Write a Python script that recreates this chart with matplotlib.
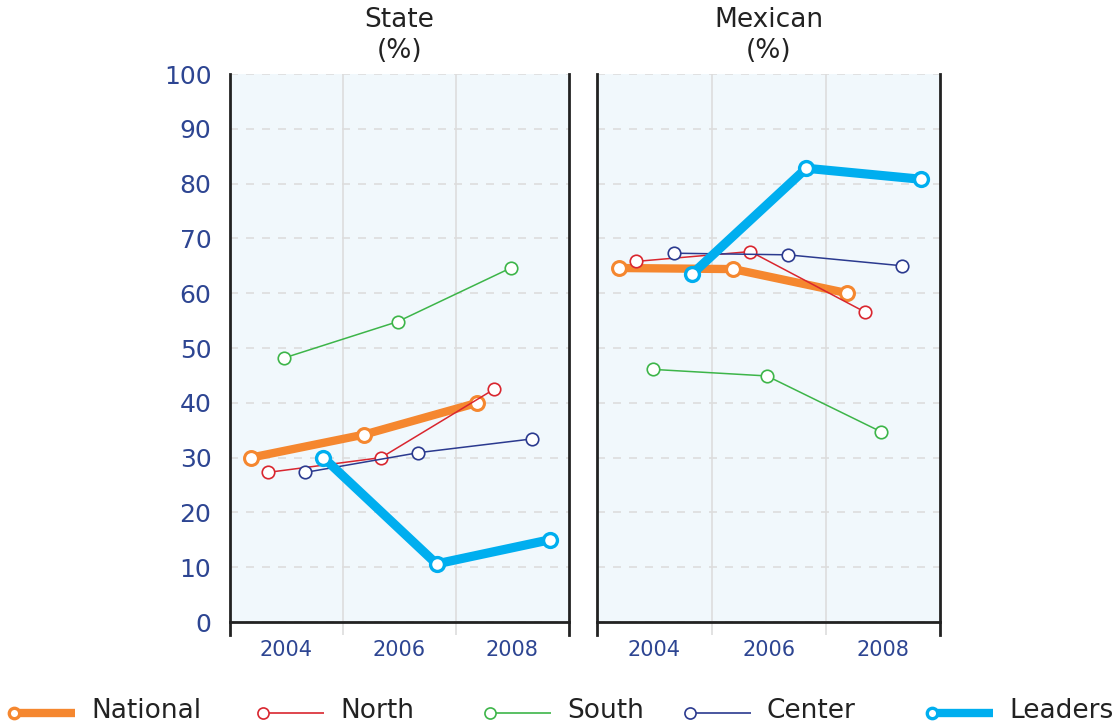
import matplotlib
matplotlib.use("Agg")
import matplotlib.pyplot as plt
from matplotlib.lines import Line2D
import numpy as np

plt.rcParams['font.family'] = ['DejaVu Sans']

# ---- data ----
years = ['2004', '2006', '2008']
series = ['National', 'North', 'South', 'Center', 'Leaders']
panel_titles = ['State\n(%)', 'Mexican\n(%)']

state_national = [30, 34.2, 40]
state_north = [27.3, 30, 42.5]
state_south = [48.2, 54.8, 64.6]
state_center = [27.3, 30.9, 33.4]
state_leaders = [30, 10.6, 15]

mexican_national = [64.6, 64.4, 60]
mexican_north = [65.8, 67.6, 56.6]
mexican_south = [46.1, 44.9, 34.7]
mexican_center = [67.3, 67, 65]
mexican_leaders = [63.5, 82.8, 80.8]

yticks = list(range(0, 101, 10))

# ---- styles ----
colors = {'National': '#f5872f', 'North': '#d9262f', 'South': '#3db549',
          'Center': '#2b3a8f', 'Leaders': '#00aeef'}
lws = {'National': 6.0, 'North': 1.1, 'South': 1.1, 'Center': 1.1, 'Leaders': 6.6}
msz = {'National': 10, 'North': 9, 'South': 9, 'Center': 9, 'Leaders': 10}
mew = {'National': 2.2, 'North': 1.2, 'South': 1.2, 'Center': 1.2, 'Leaders': 2.4}
offsets = [-0.31, -0.16, -0.015, 0.17, 0.33]
tick_color = '#2d4592'
bg = '#f1f8fc'
grid_c = '#dddddd'

panels = [
    [state_national, state_north, state_south, state_center, state_leaders],
    [mexican_national, mexican_north, mexican_south, mexican_center, mexican_leaders],
]

fig = plt.figure(figsize=(11.16, 7.25), dpi=100)
W, H = 1116, 725
ax_px = [(229.5, 569.0), (597.3, 940.0)]
y_top, y_bot = 74, 622

for i, (x0, x1) in enumerate(ax_px):
    ax = fig.add_axes([x0 / W, 1 - y_bot / H, (x1 - x0) / W, (y_bot - y_top) / H])
    ax.set_facecolor(bg)
    ax.set_xlim(0, 3)
    ax.set_ylim(0, 100)

    centers = np.arange(len(years)) + 0.5
    for k, (name, vals) in enumerate(zip(series, panels[i])):
        ax.plot(centers + offsets[k], vals, color=colors[name], lw=lws[name],
                marker='o', ms=msz[name], mfc='white', mec=colors[name],
                mew=mew[name], solid_capstyle='butt', zorder=3 + k, clip_on=False)

    # grids
    ax.set_yticks(yticks)
    ax.grid(axis='y', ls=(0, (4.8, 4.8)), color=grid_c, lw=1.2, zorder=0)
    ax.set_xticks([1, 2])
    ax.set_xticklabels([])
    ax.grid(axis='x', which='major', color=grid_c, lw=1.2, zorder=0)
    ax.tick_params(axis='x', which='major', length=9.4, width=1.2, color=grid_c)
    ax.set_xticks(centers, minor=True)
    ax.set_xticklabels(years, minor=True)
    ax.tick_params(axis='x', which='minor', length=0, pad=13, labelsize=15,
                   labelcolor=tick_color)
    ax.set_axisbelow(True)

    if i == 0:
        ax.tick_params(axis='y', length=0, pad=13, labelsize=18, labelcolor=tick_color)
    else:
        ax.tick_params(axis='y', length=0, labelleft=False)

    for s in ['left', 'right']:
        ax.spines[s].set_color('#222222')
        ax.spines[s].set_linewidth(2.0)
        ax.spines[s].set_bounds(-2.4, 100)
    ax.spines['bottom'].set_color('#222222')
    ax.spines['bottom'].set_linewidth(2.0)
    ax.spines['top'].set_visible(False)

    ax.set_title(panel_titles[i], fontsize=19, color='#222222', pad=11.5, linespacing=1.25)

# ---- legend ----
leg_marker_x = [14, 263, 490, 690, 932]
leg_y = 1 - 713 / H
for k, name in enumerate(series):
    mx = leg_marker_x[k]
    thick = lws[name] > 2
    fig.add_artist(Line2D([mx / W, (mx + 61) / W], [leg_y, leg_y], transform=fig.transFigure,
                          color=colors[name], lw=6.0 if thick else 1.2, solid_capstyle='butt'))
    fig.add_artist(Line2D([mx / W], [leg_y], transform=fig.transFigure, marker='o',
                          ms=7.5 if thick else 8, mfc='white', mec=colors[name],
                          mew=2.4 if thick else 1.2, lw=0))
    fig.text((mx + 77) / W, 1 - 711 / H, name, fontsize=19, color='#222222',
             va='center', ha='left')

fig.savefig('out.png', dpi=100)
